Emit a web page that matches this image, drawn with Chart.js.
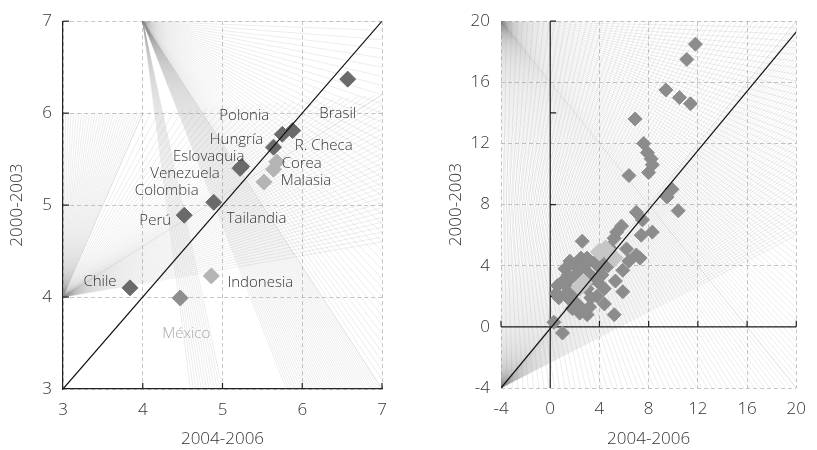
<!DOCTYPE html>
<html>
<head>
<meta charset="utf-8">
<script src="https://cdn.jsdelivr.net/npm/chart.js@4.4.1/dist/chart.umd.min.js"></script>
<style>
  body { margin: 0; background: #fff; width: 817px; height: 450px; overflow: hidden; }
  #left { position: absolute; left: 0; top: 0; width: 408px; height: 450px; }
  #right { position: absolute; left: 408px; top: 0; width: 409px; height: 450px; }
</style>
</head>
<body>
<div id="left"><canvas id="leftChart" width="408" height="450"></canvas></div>
<div id="right"><canvas id="rightChart" width="409" height="450"></canvas></div>
<script>
// left panel: countries, 2004-2006 (x) vs 2000-2003 (y)
const countries = ["Brasil", "Polonia", "R. Checa", "Hungría", "Eslovaquia", "Venezuela", "Corea", "Tailandia",
    "Malasia", "Colombia", "Perú", "Chile", "México", "Indonesia"];
const leftX = [6.57, 5.75, 5.88, 5.64, 5.24, 5.22, 5.68, 5.64, 5.52, 4.89, 4.52, 3.84, 4.47, 4.86];
const leftY = [6.37, 5.77, 5.81, 5.63, 5.42, 5.40, 5.47, 5.39, 5.25, 5.03, 4.89, 4.10, 3.99, 4.23];
const leftTone = ["dark", "dark", "dark", "dark", "dark", "dark", "light", "light",
    "light", "dark", "dark", "dark", "mid", "light"];
const leftTicks = [3, 4, 5, 6, 7];

// right panel: all economies
const rightDarkX = [11.8, 11.1, 9.4, 10.5, 11.4, 6.9, 7.6, 7.9, 8.2, 8.3, 8.0, 6.4, 9.9, 9.5, 10.4,
    7.0, 7.5, 5.8, 5.4, 8.3, 7.4, 2.6, 5.2, 6.2, 7.0, 7.3, 5.9, 2.0, 1.45, 3.0, 4.1, 1.05, 5.3, 5.9,
    1.2, 0.7, 1.7, 2.5, 3.0, 4.4, 5.2, 0.3, 1.0, 3.6, 4.4, 2.0, 3.0, 3.8, 2.2, 3.3, 0.6, 1.7, 2.5,
    3.0, 4.4, 1.2, 4.8, 3.4, 2.8, 1.5, 2.2, 3.5, 2.8, 1.8, 3.8, 4.2, 0.5, 2.4, 1.6, 3.2, 4.7, 6.4];
const rightDarkY = [18.5, 17.5, 15.5, 15.0, 14.6, 13.6, 12.0, 11.4, 11.0, 10.6, 10.1, 9.9, 9.0, 8.5, 7.6,
    7.5, 7.0, 6.6, 6.2, 6.2, 6.0, 5.6, 5.8, 5.1, 4.7, 4.5, 3.7, 4.0, 3.4, 3.6, 3.8, 3.0, 3.0, 2.3,
    2.1, 1.9, 1.7, 1.2, 0.8, 1.5, 0.8, 0.3, -0.4, 4.2, 4.5, 2.3, 2.5, 3.0, 1.5, 1.9, 2.7, 3.2, 4.5,
    4.5, 2.5, 3.8, 5.2, 3.2, 1.0, 2.5, 3.5, 3.2, 4.0, 1.2, 2.0, 3.4, 2.2, 0.9, 4.3, 1.3, 4.0, 4.3];
const rightLightX = [4.0, 4.5, 5.2, 2.4, 2.7];
const rightLightY = [4.9, 5.1, 4.5, 2.6, 2.9];
const rightTicks = [-4, 0, 4, 8, 12, 16, 20];
const rightMarksY = [2, 8, 14, 20];
const rightMarksX = [-4, 4, 8, 12, 16, 20];

const toneColor = { dark: "#6a6a6a", mid: "#8f8f8f", light: "#b4b4b4" };
// label offset from its point, in pixels
const labelOffset = {
    "Brasil": [-10, 35], "Polonia": [-38, -19], "R. Checa": [31, 15], "Hungría": [-37, -7],
    "Eslovaquia": [-33, -10], "Venezuela": [-55, 5], "Corea": [25, 2], "Tailandia": [-17, 49],
    "Malasia": [42, -1], "Colombia": [-47, -12], "Perú": [-29, 6], "Chile": [-30, -6],
    "México": [6, 36], "Indonesia": [49, 7]
};
// faint background hatching fans: origin and the edge path the rays reach
const fans = {
    left: [
        { from: [4, 7], to: [[4.6, 3], [5.0, 3]], n: 12 },
        { from: [4, 7], to: [[5.8, 3], [7, 3], [7, 7]], n: 80 },
        { from: [3, 4], to: [[3, 6], [4, 6], [7, 6.2], [7, 4.6]], n: 90 }
    ],
    right: [
        { from: [-4, 20], to: [[-3.5, -4], [20, -4], [20, 20]], n: 110 },
        { from: [-4, -4], to: [[-4, 20], [20, 20], [20, 6]], n: 110 }
    ]
};

const FONT = "'Open Sans', 'DejaVu Sans', sans-serif";
const zip = (xs, ys) => xs.map((x, i) => ({ x, y: ys[i] }));

function axis(min, max, ticks, title, titlePad, fit, border) {
    return {
        type: "linear",
        min, max,
        afterBuildTicks: s => { s.ticks = ticks.map(v => ({ value: v })); },
        afterFit: fit,
        grid: { color: "#c6c6c6", lineWidth: 1, drawTicks: false },
        border: border,
        ticks: { color: "#333", font: { family: FONT, size: 17, weight: 300 }, padding: 11 },
        title: { display: true, text: title, color: "#333", font: { family: FONT, size: 17, weight: 300 }, padding: titlePad }
    };
}

function drawFans(chart, list) {
    const { ctx, scales: { x, y } } = chart;
    ctx.save();
    ctx.beginPath();
    ctx.rect(x.left, y.top, x.right - x.left, y.bottom - y.top);
    ctx.clip();
    ctx.strokeStyle = "rgba(140,140,140,0.2)";
    ctx.lineWidth = 0.8;
    list.forEach(f => {
        const ox = x.getPixelForValue(f.from[0]), oy = y.getPixelForValue(f.from[1]);
        const pts = f.to.map(p => [x.getPixelForValue(p[0]), y.getPixelForValue(p[1])]);
        const per = Math.ceil(f.n / (pts.length - 1));
        ctx.beginPath();
        for (let s = 0; s < pts.length - 1; s++) {
            for (let k = 0; k <= per; k++) {
                const t = k / per;
                ctx.moveTo(ox, oy);
                ctx.lineTo(pts[s][0] + (pts[s + 1][0] - pts[s][0]) * t, pts[s][1] + (pts[s + 1][1] - pts[s][1]) * t);
            }
        }
        ctx.stroke();
    });
    ctx.restore();
}

const leftPlugin = {
    id: "leftExtras",
    beforeDatasetsDraw(chart) { drawFans(chart, fans.left); },
    afterDatasetsDraw(chart) {
        const { ctx, scales: { x, y } } = chart;
        ctx.save();
        ctx.strokeStyle = "#222";
        ctx.lineWidth = 1.2;
        leftTicks.slice(1).forEach(v => {
            const py = y.getPixelForValue(v), px = x.getPixelForValue(v);
            ctx.beginPath(); ctx.moveTo(x.left, py); ctx.lineTo(x.left + 6, py); ctx.stroke();
            ctx.beginPath(); ctx.moveTo(px, y.bottom); ctx.lineTo(px, y.bottom - 6); ctx.stroke();
        });
        ctx.font = "300 15px " + FONT;
        ctx.textAlign = "center";
        ctx.textBaseline = "middle";
        countries.forEach((c, i) => {
            const [dx, dy] = labelOffset[c];
            ctx.fillStyle = c === "México" ? "#a8a8a8" : "#333";
            ctx.fillText(c, x.getPixelForValue(leftX[i]) + dx, y.getPixelForValue(leftY[i]) + dy);
        });
        ctx.restore();
    }
};

const rightPlugin = {
    id: "rightExtras",
    beforeDatasetsDraw(chart) {
        drawFans(chart, fans.right);
        const { ctx, scales: { x, y } } = chart;
        const x0 = x.getPixelForValue(0), y0 = y.getPixelForValue(0);
        ctx.save();
        ctx.strokeStyle = "#222";
        ctx.lineWidth = 1.2;
        ctx.beginPath();
        ctx.moveTo(x.left, y0); ctx.lineTo(x.right, y0);
        ctx.moveTo(x0, y.top); ctx.lineTo(x0, y.bottom);
        rightMarksY.forEach(v => { const py = y.getPixelForValue(v); ctx.moveTo(x0, py); ctx.lineTo(x0 + 6, py); });
        rightMarksX.forEach(v => { const px = x.getPixelForValue(v); ctx.moveTo(px, y0); ctx.lineTo(px, y0 - 6); });
        ctx.stroke();
        ctx.restore();
    }
};

new Chart(document.getElementById("leftChart"), {
    type: "scatter",
    data: {
        datasets: [
            {
                type: "line", data: [{ x: 3, y: 3 }, { x: 7, y: 7 }], borderColor: "#111", borderWidth: 1.2,
                pointRadius: 0, order: 0
            },
            {
                data: zip(leftX, leftY), pointStyle: "rectRot", pointRadius: 8,
                backgroundColor: leftTone.map(t => toneColor[t]), borderColor: leftTone.map(t => toneColor[t]),
                borderWidth: 1, order: 1
            }
        ]
    },
    options: {
        responsive: false, animation: false,
        layout: { padding: { top: 17, right: 26, left: 0, bottom: 0 } },
        plugins: { legend: { display: false }, tooltip: { enabled: false } },
        scales: {
            x: axis(3, 7, leftTicks, "2004-2006", { top: 0, bottom: 1 }, s => { s.height = 61; },
                { display: true, color: "#222", width: 1.2, dash: [4, 3] }),
            y: axis(3, 7, leftTicks, "2000-2003", { top: 7, bottom: 0 }, s => { s.width = 63; },
                { display: true, color: "#222", width: 1.2, dash: [4, 3] })
        }
    },
    plugins: [leftPlugin]
});

new Chart(document.getElementById("rightChart"), {
    type: "scatter",
    data: {
        datasets: [
            {
                type: "line", data: [{ x: -4, y: -4 }, { x: 20, y: 19.3 }], borderColor: "#111", borderWidth: 1.2,
                pointRadius: 0, order: 0
            },
            {
                data: zip(rightLightX, rightLightY), pointStyle: "rectRot", pointRadius: 9,
                backgroundColor: "#c6c6c6", borderColor: "#c6c6c6", borderWidth: 1, order: 1
            },
            {
                data: zip(rightDarkX, rightDarkY), pointStyle: "rectRot", pointRadius: 7,
                backgroundColor: "#8c8c8c", borderColor: "#8c8c8c", borderWidth: 1, order: 2
            }
        ]
    },
    options: {
        responsive: false, animation: false,
        layout: { padding: { top: 15, right: 14, left: 0, bottom: 0 } },
        plugins: { legend: { display: false }, tooltip: { enabled: false } },
        scales: {
            x: axis(-4, 20, rightTicks, "2004-2006", { top: 0, bottom: 1 }, s => { s.height = 62; },
                { display: false, dash: [4, 3] }),
            y: axis(-4, 20, rightTicks, "2000-2003", { top: 38, bottom: 0 }, s => { s.width = 93; },
                { display: false, dash: [4, 3] })
        }
    },
    plugins: [rightPlugin]
});
</script>
</body>
</html>
